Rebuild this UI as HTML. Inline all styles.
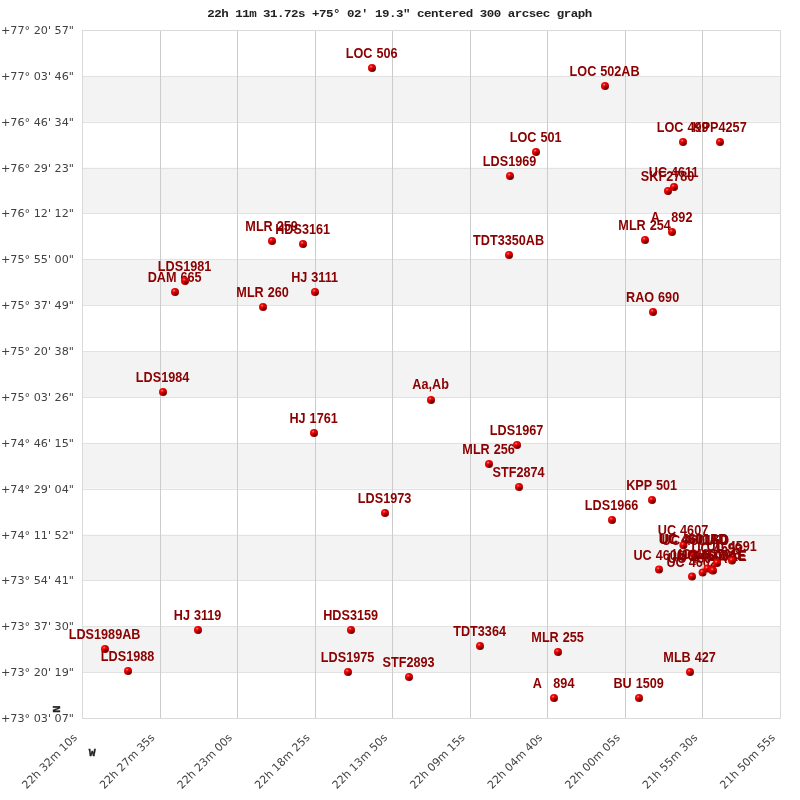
<!DOCTYPE html>
<html lang="en"><head><meta charset="utf-8"><title>22h 11m 31.72s +75° 02′ 19.3″ centered 300 arcsec graph</title>
<style>
html,body{margin:0;padding:0;background:#fff;}
body{width:800px;height:800px;overflow:hidden;}
svg{display:block;}
.ax{font-family:"DejaVu Sans","Liberation Sans",sans-serif;font-size:11.2px;fill:#424242;}
.lb{font-family:"Liberation Sans",sans-serif;font-weight:bold;font-size:12.67px;fill:#8b0000;text-anchor:middle;white-space:pre;word-spacing:0.45px;}
.tt{font-family:"Liberation Mono","DejaVu Sans Mono",monospace;font-weight:bold;font-size:11.8px;letter-spacing:-0.476px;fill:#222;white-space:pre;}
.nw{font-family:"Liberation Mono","DejaVu Sans Mono",monospace;font-weight:bold;font-size:11.5px;fill:#222;stroke:#222;stroke-width:0.35px;text-anchor:middle;}
</style></head><body>
<svg width="800" height="800" viewBox="0 0 800 800" role="img" aria-label="Double star field chart">
<defs><radialGradient id="bg1" cx="0.32" cy="0.3" r="0.85"><stop offset="0" stop-color="#fa1414"/><stop offset="0.4" stop-color="#e40000"/><stop offset="0.75" stop-color="#b80000"/><stop offset="1" stop-color="#840000"/></radialGradient><radialGradient id="bg2" cx="0.5" cy="0.5" r="0.5"><stop offset="0" stop-color="#400000" stop-opacity="0.8"/><stop offset="0.5" stop-color="#580000" stop-opacity="0.5"/><stop offset="1" stop-color="#700000" stop-opacity="0"/></radialGradient><radialGradient id="bg3" cx="0.5" cy="0.5" r="0.5"><stop offset="0" stop-color="#ffc0c0" stop-opacity="0.9"/><stop offset="1" stop-color="#ff4040" stop-opacity="0"/></radialGradient><clipPath id="bc"><circle cx="0" cy="0" r="4"/></clipPath></defs>
<rect x="0" y="0" width="800" height="800" fill="#ffffff"/>
<rect x="82" y="75.87" width="698" height="45.87" fill="#f3f3f3"/>
<rect x="82" y="167.60" width="698" height="45.87" fill="#f3f3f3"/>
<rect x="82" y="259.33" width="698" height="45.87" fill="#f3f3f3"/>
<rect x="82" y="351.07" width="698" height="45.87" fill="#f3f3f3"/>
<rect x="82" y="442.80" width="698" height="45.87" fill="#f3f3f3"/>
<rect x="82" y="534.53" width="698" height="45.87" fill="#f3f3f3"/>
<rect x="82" y="626.27" width="698" height="45.87" fill="#f3f3f3"/>
<path d="M82 76.5H781M82 122.5H781M82 168.5H781M82 213.5H781M82 259.5H781M82 305.5H781M82 351.5H781M82 397.5H781M82 443.5H781M82 489.5H781M82 535.5H781M82 580.5H781M82 626.5H781M82 672.5H781" stroke="#e2e2e2" stroke-width="1" fill="none" shape-rendering="crispEdges"/>
<path d="M160.5 30V719M237.5 30V719M315.5 30V719M392.5 30V719M470.5 30V719M547.5 30V719M625.5 30V719M702.5 30V719" stroke="#cccccc" stroke-width="1" fill="none" shape-rendering="crispEdges"/>
<rect x="82.5" y="30.5" width="698" height="688" stroke="#dadada" stroke-width="1" fill="none" shape-rendering="crispEdges"/>
<text class="tt" xml:space="preserve" transform="translate(207.2,17) scale(1.06,1)">22h 11m 31.72s +75° 02′ 19.3″ centered 300 arcsec graph</text>
<text class="ax" text-anchor="end" x="74" y="34.00">+77° 20' 57&quot;</text>
<text class="ax" text-anchor="end" x="74" y="79.87">+77° 03' 46&quot;</text>
<text class="ax" text-anchor="end" x="74" y="125.73">+76° 46' 34&quot;</text>
<text class="ax" text-anchor="end" x="74" y="171.60">+76° 29' 23&quot;</text>
<text class="ax" text-anchor="end" x="74" y="217.47">+76° 12' 12&quot;</text>
<text class="ax" text-anchor="end" x="74" y="263.33">+75° 55' 00&quot;</text>
<text class="ax" text-anchor="end" x="74" y="309.20">+75° 37' 49&quot;</text>
<text class="ax" text-anchor="end" x="74" y="355.07">+75° 20' 38&quot;</text>
<text class="ax" text-anchor="end" x="74" y="400.93">+75° 03' 26&quot;</text>
<text class="ax" text-anchor="end" x="74" y="446.80">+74° 46' 15&quot;</text>
<text class="ax" text-anchor="end" x="74" y="492.67">+74° 29' 04&quot;</text>
<text class="ax" text-anchor="end" x="74" y="538.53">+74° 11' 52&quot;</text>
<text class="ax" text-anchor="end" x="74" y="584.40">+73° 54' 41&quot;</text>
<text class="ax" text-anchor="end" x="74" y="630.27">+73° 37' 30&quot;</text>
<text class="ax" text-anchor="end" x="74" y="676.13">+73° 20' 19&quot;</text>
<text class="ax" text-anchor="end" x="74" y="722.00">+73° 03' 07&quot;</text>
<text class="ax" style="font-size:11px" text-anchor="end" transform="translate(77.80,738.3) rotate(-45)" x="0" y="0">22h 32m 10s</text>
<text class="ax" style="font-size:11px" text-anchor="end" transform="translate(155.36,738.3) rotate(-45)" x="0" y="0">22h 27m 35s</text>
<text class="ax" style="font-size:11px" text-anchor="end" transform="translate(232.91,738.3) rotate(-45)" x="0" y="0">22h 23m 00s</text>
<text class="ax" style="font-size:11px" text-anchor="end" transform="translate(310.47,738.3) rotate(-45)" x="0" y="0">22h 18m 25s</text>
<text class="ax" style="font-size:11px" text-anchor="end" transform="translate(388.02,738.3) rotate(-45)" x="0" y="0">22h 13m 50s</text>
<text class="ax" style="font-size:11px" text-anchor="end" transform="translate(465.58,738.3) rotate(-45)" x="0" y="0">22h 09m 15s</text>
<text class="ax" style="font-size:11px" text-anchor="end" transform="translate(543.13,738.3) rotate(-45)" x="0" y="0">22h 04m 40s</text>
<text class="ax" style="font-size:11px" text-anchor="end" transform="translate(620.69,738.3) rotate(-45)" x="0" y="0">22h 00m 05s</text>
<text class="ax" style="font-size:11px" text-anchor="end" transform="translate(698.24,738.3) rotate(-45)" x="0" y="0">21h 55m 30s</text>
<text class="ax" style="font-size:11px" text-anchor="end" transform="translate(775.80,738.3) rotate(-45)" x="0" y="0">21h 50m 55s</text>
<text class="nw" transform="translate(60.1,709.1) rotate(-90) scale(1.05,1)" x="0" y="0">N</text>
<text class="nw" transform="translate(92.1,756) scale(1.0,1)" x="0" y="0">W</text>
<text class="lb" xml:space="preserve" transform="translate(104.6,639) scale(1,1.12)">LDS1989AB</text>
<g transform="translate(105,649)"><circle r="4" fill="url(#bg1)"/><g clip-path="url(#bc)"><ellipse cx="1.4" cy="2" rx="3.4" ry="2.6" fill="url(#bg2)"/><circle cx="-0.9" cy="-1.4" r="1.5" fill="url(#bg3)"/></g></g>
<text class="lb" xml:space="preserve" transform="translate(127.6,661) scale(1,1.12)">LDS1988</text>
<g transform="translate(128,671)"><circle r="4" fill="url(#bg1)"/><g clip-path="url(#bc)"><ellipse cx="1.4" cy="2" rx="3.4" ry="2.6" fill="url(#bg2)"/><circle cx="-0.9" cy="-1.4" r="1.5" fill="url(#bg3)"/></g></g>
<text class="lb" xml:space="preserve" transform="translate(162.6,382) scale(1,1.12)">LDS1984</text>
<g transform="translate(163,392)"><circle r="4" fill="url(#bg1)"/><g clip-path="url(#bc)"><ellipse cx="1.4" cy="2" rx="3.4" ry="2.6" fill="url(#bg2)"/><circle cx="-0.9" cy="-1.4" r="1.5" fill="url(#bg3)"/></g></g>
<text class="lb" xml:space="preserve" transform="translate(174.6,282) scale(1,1.12)">DAM 665</text>
<g transform="translate(175,292)"><circle r="4" fill="url(#bg1)"/><g clip-path="url(#bc)"><ellipse cx="1.4" cy="2" rx="3.4" ry="2.6" fill="url(#bg2)"/><circle cx="-0.9" cy="-1.4" r="1.5" fill="url(#bg3)"/></g></g>
<text class="lb" xml:space="preserve" transform="translate(184.6,271) scale(1,1.12)">LDS1981</text>
<g transform="translate(185,281)"><circle r="4" fill="url(#bg1)"/><g clip-path="url(#bc)"><ellipse cx="1.4" cy="2" rx="3.4" ry="2.6" fill="url(#bg2)"/><circle cx="-0.9" cy="-1.4" r="1.5" fill="url(#bg3)"/></g></g>
<text class="lb" xml:space="preserve" transform="translate(197.6,620) scale(1,1.12)">HJ 3119</text>
<g transform="translate(198,630)"><circle r="4" fill="url(#bg1)"/><g clip-path="url(#bc)"><ellipse cx="1.4" cy="2" rx="3.4" ry="2.6" fill="url(#bg2)"/><circle cx="-0.9" cy="-1.4" r="1.5" fill="url(#bg3)"/></g></g>
<text class="lb" xml:space="preserve" transform="translate(262.6,297) scale(1,1.12)">MLR 260</text>
<g transform="translate(263,307)"><circle r="4" fill="url(#bg1)"/><g clip-path="url(#bc)"><ellipse cx="1.4" cy="2" rx="3.4" ry="2.6" fill="url(#bg2)"/><circle cx="-0.9" cy="-1.4" r="1.5" fill="url(#bg3)"/></g></g>
<text class="lb" xml:space="preserve" transform="translate(271.6,231) scale(1,1.12)">MLR 259</text>
<g transform="translate(272,241)"><circle r="4" fill="url(#bg1)"/><g clip-path="url(#bc)"><ellipse cx="1.4" cy="2" rx="3.4" ry="2.6" fill="url(#bg2)"/><circle cx="-0.9" cy="-1.4" r="1.5" fill="url(#bg3)"/></g></g>
<text class="lb" xml:space="preserve" transform="translate(302.6,234) scale(1,1.12)">HDS3161</text>
<g transform="translate(303,244)"><circle r="4" fill="url(#bg1)"/><g clip-path="url(#bc)"><ellipse cx="1.4" cy="2" rx="3.4" ry="2.6" fill="url(#bg2)"/><circle cx="-0.9" cy="-1.4" r="1.5" fill="url(#bg3)"/></g></g>
<text class="lb" xml:space="preserve" transform="translate(313.6,423) scale(1,1.12)">HJ 1761</text>
<g transform="translate(314,433)"><circle r="4" fill="url(#bg1)"/><g clip-path="url(#bc)"><ellipse cx="1.4" cy="2" rx="3.4" ry="2.6" fill="url(#bg2)"/><circle cx="-0.9" cy="-1.4" r="1.5" fill="url(#bg3)"/></g></g>
<text class="lb" xml:space="preserve" transform="translate(314.6,282) scale(1,1.12)">HJ 3111</text>
<g transform="translate(315,292)"><circle r="4" fill="url(#bg1)"/><g clip-path="url(#bc)"><ellipse cx="1.4" cy="2" rx="3.4" ry="2.6" fill="url(#bg2)"/><circle cx="-0.9" cy="-1.4" r="1.5" fill="url(#bg3)"/></g></g>
<text class="lb" xml:space="preserve" transform="translate(347.6,662) scale(1,1.12)">LDS1975</text>
<g transform="translate(348,672)"><circle r="4" fill="url(#bg1)"/><g clip-path="url(#bc)"><ellipse cx="1.4" cy="2" rx="3.4" ry="2.6" fill="url(#bg2)"/><circle cx="-0.9" cy="-1.4" r="1.5" fill="url(#bg3)"/></g></g>
<text class="lb" xml:space="preserve" transform="translate(350.6,620) scale(1,1.12)">HDS3159</text>
<g transform="translate(351,630)"><circle r="4" fill="url(#bg1)"/><g clip-path="url(#bc)"><ellipse cx="1.4" cy="2" rx="3.4" ry="2.6" fill="url(#bg2)"/><circle cx="-0.9" cy="-1.4" r="1.5" fill="url(#bg3)"/></g></g>
<text class="lb" xml:space="preserve" transform="translate(371.6,58) scale(1,1.12)">LOC 506</text>
<g transform="translate(372,68)"><circle r="4" fill="url(#bg1)"/><g clip-path="url(#bc)"><ellipse cx="1.4" cy="2" rx="3.4" ry="2.6" fill="url(#bg2)"/><circle cx="-0.9" cy="-1.4" r="1.5" fill="url(#bg3)"/></g></g>
<text class="lb" xml:space="preserve" transform="translate(384.6,503) scale(1,1.12)">LDS1973</text>
<g transform="translate(385,513)"><circle r="4" fill="url(#bg1)"/><g clip-path="url(#bc)"><ellipse cx="1.4" cy="2" rx="3.4" ry="2.6" fill="url(#bg2)"/><circle cx="-0.9" cy="-1.4" r="1.5" fill="url(#bg3)"/></g></g>
<text class="lb" xml:space="preserve" transform="translate(408.6,667) scale(1,1.12)">STF2893</text>
<g transform="translate(409,677)"><circle r="4" fill="url(#bg1)"/><g clip-path="url(#bc)"><ellipse cx="1.4" cy="2" rx="3.4" ry="2.6" fill="url(#bg2)"/><circle cx="-0.9" cy="-1.4" r="1.5" fill="url(#bg3)"/></g></g>
<text class="lb" xml:space="preserve" transform="translate(430.6,388.8) scale(1,1.12)">Aa,Ab</text>
<g transform="translate(431,400)"><circle r="4" fill="url(#bg1)"/><g clip-path="url(#bc)"><ellipse cx="1.4" cy="2" rx="3.4" ry="2.6" fill="url(#bg2)"/><circle cx="-0.9" cy="-1.4" r="1.5" fill="url(#bg3)"/></g></g>
<text class="lb" xml:space="preserve" transform="translate(479.6,636) scale(1,1.12)">TDT3364</text>
<g transform="translate(480,646)"><circle r="4" fill="url(#bg1)"/><g clip-path="url(#bc)"><ellipse cx="1.4" cy="2" rx="3.4" ry="2.6" fill="url(#bg2)"/><circle cx="-0.9" cy="-1.4" r="1.5" fill="url(#bg3)"/></g></g>
<text class="lb" xml:space="preserve" transform="translate(488.6,454) scale(1,1.12)">MLR 256</text>
<g transform="translate(489,464)"><circle r="4" fill="url(#bg1)"/><g clip-path="url(#bc)"><ellipse cx="1.4" cy="2" rx="3.4" ry="2.6" fill="url(#bg2)"/><circle cx="-0.9" cy="-1.4" r="1.5" fill="url(#bg3)"/></g></g>
<text class="lb" xml:space="preserve" transform="translate(508.6,245) scale(1,1.12)">TDT3350AB</text>
<g transform="translate(509,255)"><circle r="4" fill="url(#bg1)"/><g clip-path="url(#bc)"><ellipse cx="1.4" cy="2" rx="3.4" ry="2.6" fill="url(#bg2)"/><circle cx="-0.9" cy="-1.4" r="1.5" fill="url(#bg3)"/></g></g>
<text class="lb" xml:space="preserve" transform="translate(509.6,166) scale(1,1.12)">LDS1969</text>
<g transform="translate(510,176)"><circle r="4" fill="url(#bg1)"/><g clip-path="url(#bc)"><ellipse cx="1.4" cy="2" rx="3.4" ry="2.6" fill="url(#bg2)"/><circle cx="-0.9" cy="-1.4" r="1.5" fill="url(#bg3)"/></g></g>
<text class="lb" xml:space="preserve" transform="translate(516.6,435) scale(1,1.12)">LDS1967</text>
<g transform="translate(517,445)"><circle r="4" fill="url(#bg1)"/><g clip-path="url(#bc)"><ellipse cx="1.4" cy="2" rx="3.4" ry="2.6" fill="url(#bg2)"/><circle cx="-0.9" cy="-1.4" r="1.5" fill="url(#bg3)"/></g></g>
<text class="lb" xml:space="preserve" transform="translate(518.6,477) scale(1,1.12)">STF2874</text>
<g transform="translate(519,487)"><circle r="4" fill="url(#bg1)"/><g clip-path="url(#bc)"><ellipse cx="1.4" cy="2" rx="3.4" ry="2.6" fill="url(#bg2)"/><circle cx="-0.9" cy="-1.4" r="1.5" fill="url(#bg3)"/></g></g>
<text class="lb" xml:space="preserve" transform="translate(535.6,142) scale(1,1.12)">LOC 501</text>
<g transform="translate(536,152)"><circle r="4" fill="url(#bg1)"/><g clip-path="url(#bc)"><ellipse cx="1.4" cy="2" rx="3.4" ry="2.6" fill="url(#bg2)"/><circle cx="-0.9" cy="-1.4" r="1.5" fill="url(#bg3)"/></g></g>
<text class="lb" xml:space="preserve" transform="translate(553.6,688) scale(1,1.12)">A   894</text>
<g transform="translate(554,698)"><circle r="4" fill="url(#bg1)"/><g clip-path="url(#bc)"><ellipse cx="1.4" cy="2" rx="3.4" ry="2.6" fill="url(#bg2)"/><circle cx="-0.9" cy="-1.4" r="1.5" fill="url(#bg3)"/></g></g>
<text class="lb" xml:space="preserve" transform="translate(557.6,642) scale(1,1.12)">MLR 255</text>
<g transform="translate(558,652)"><circle r="4" fill="url(#bg1)"/><g clip-path="url(#bc)"><ellipse cx="1.4" cy="2" rx="3.4" ry="2.6" fill="url(#bg2)"/><circle cx="-0.9" cy="-1.4" r="1.5" fill="url(#bg3)"/></g></g>
<text class="lb" xml:space="preserve" transform="translate(604.6,76) scale(1,1.12)">LOC 502AB</text>
<g transform="translate(605,86)"><circle r="4" fill="url(#bg1)"/><g clip-path="url(#bc)"><ellipse cx="1.4" cy="2" rx="3.4" ry="2.6" fill="url(#bg2)"/><circle cx="-0.9" cy="-1.4" r="1.5" fill="url(#bg3)"/></g></g>
<text class="lb" xml:space="preserve" transform="translate(611.6,510) scale(1,1.12)">LDS1966</text>
<g transform="translate(612,520)"><circle r="4" fill="url(#bg1)"/><g clip-path="url(#bc)"><ellipse cx="1.4" cy="2" rx="3.4" ry="2.6" fill="url(#bg2)"/><circle cx="-0.9" cy="-1.4" r="1.5" fill="url(#bg3)"/></g></g>
<text class="lb" xml:space="preserve" transform="translate(638.6,688) scale(1,1.12)">BU 1509</text>
<g transform="translate(639,698)"><circle r="4" fill="url(#bg1)"/><g clip-path="url(#bc)"><ellipse cx="1.4" cy="2" rx="3.4" ry="2.6" fill="url(#bg2)"/><circle cx="-0.9" cy="-1.4" r="1.5" fill="url(#bg3)"/></g></g>
<text class="lb" xml:space="preserve" transform="translate(644.6,230) scale(1,1.12)">MLR 254</text>
<g transform="translate(645,240)"><circle r="4" fill="url(#bg1)"/><g clip-path="url(#bc)"><ellipse cx="1.4" cy="2" rx="3.4" ry="2.6" fill="url(#bg2)"/><circle cx="-0.9" cy="-1.4" r="1.5" fill="url(#bg3)"/></g></g>
<text class="lb" xml:space="preserve" transform="translate(651.6,490) scale(1,1.12)">KPP 501</text>
<g transform="translate(652,500)"><circle r="4" fill="url(#bg1)"/><g clip-path="url(#bc)"><ellipse cx="1.4" cy="2" rx="3.4" ry="2.6" fill="url(#bg2)"/><circle cx="-0.9" cy="-1.4" r="1.5" fill="url(#bg3)"/></g></g>
<text class="lb" xml:space="preserve" transform="translate(652.6,302) scale(1,1.12)">RAO 690</text>
<g transform="translate(653,312)"><circle r="4" fill="url(#bg1)"/><g clip-path="url(#bc)"><ellipse cx="1.4" cy="2" rx="3.4" ry="2.6" fill="url(#bg2)"/><circle cx="-0.9" cy="-1.4" r="1.5" fill="url(#bg3)"/></g></g>
<text class="lb" xml:space="preserve" transform="translate(658.6,559.6) scale(1,1.12)">UC 4606</text>
<g transform="translate(659,569.6)"><circle r="4" fill="url(#bg1)"/><g clip-path="url(#bc)"><ellipse cx="1.4" cy="2" rx="3.4" ry="2.6" fill="url(#bg2)"/><circle cx="-0.9" cy="-1.4" r="1.5" fill="url(#bg3)"/></g></g>
<text class="lb" xml:space="preserve" transform="translate(667.6,181) scale(1,1.12)">SKF2780</text>
<g transform="translate(668,191)"><circle r="4" fill="url(#bg1)"/><g clip-path="url(#bc)"><ellipse cx="1.4" cy="2" rx="3.4" ry="2.6" fill="url(#bg2)"/><circle cx="-0.9" cy="-1.4" r="1.5" fill="url(#bg3)"/></g></g>
<text class="lb" xml:space="preserve" transform="translate(671.6,222) scale(1,1.12)">A   892</text>
<g transform="translate(672,232)"><circle r="4" fill="url(#bg1)"/><g clip-path="url(#bc)"><ellipse cx="1.4" cy="2" rx="3.4" ry="2.6" fill="url(#bg2)"/><circle cx="-0.9" cy="-1.4" r="1.5" fill="url(#bg3)"/></g></g>
<text class="lb" xml:space="preserve" transform="translate(673.6,177) scale(1,1.12)">UC 4611</text>
<g transform="translate(674,187)"><circle r="4" fill="url(#bg1)"/><g clip-path="url(#bc)"><ellipse cx="1.4" cy="2" rx="3.4" ry="2.6" fill="url(#bg2)"/><circle cx="-0.9" cy="-1.4" r="1.5" fill="url(#bg3)"/></g></g>
<text class="lb" xml:space="preserve" transform="translate(682.6,132) scale(1,1.12)">LOC 499</text>
<g transform="translate(683,142)"><circle r="4" fill="url(#bg1)"/><g clip-path="url(#bc)"><ellipse cx="1.4" cy="2" rx="3.4" ry="2.6" fill="url(#bg2)"/><circle cx="-0.9" cy="-1.4" r="1.5" fill="url(#bg3)"/></g></g>
<text class="lb" xml:space="preserve" transform="translate(683,535.2) scale(1,1.12)">UC 4607</text>
<g transform="translate(683.4,545.2)"><circle r="4" fill="url(#bg1)"/><g clip-path="url(#bc)"><ellipse cx="1.4" cy="2" rx="3.4" ry="2.6" fill="url(#bg2)"/><circle cx="-0.9" cy="-1.4" r="1.5" fill="url(#bg3)"/></g></g>
<text class="lb" xml:space="preserve" transform="translate(689.6,662) scale(1,1.12)">MLB 427</text>
<g transform="translate(690,672)"><circle r="4" fill="url(#bg1)"/><g clip-path="url(#bc)"><ellipse cx="1.4" cy="2" rx="3.4" ry="2.6" fill="url(#bg2)"/><circle cx="-0.9" cy="-1.4" r="1.5" fill="url(#bg3)"/></g></g>
<text class="lb" xml:space="preserve" transform="translate(691.6,566.6) scale(1,1.12)">UC 4602</text>
<g transform="translate(692,576.6)"><circle r="4" fill="url(#bg1)"/><g clip-path="url(#bc)"><ellipse cx="1.4" cy="2" rx="3.4" ry="2.6" fill="url(#bg2)"/><circle cx="-0.9" cy="-1.4" r="1.5" fill="url(#bg3)"/></g></g>
<text class="lb" xml:space="preserve" transform="translate(693.1,543.6) scale(1,1.12)">UC 4601AD</text>
<g transform="translate(693.5,553.6)"><circle r="4" fill="url(#bg1)"/><g clip-path="url(#bc)"><ellipse cx="1.4" cy="2" rx="3.4" ry="2.6" fill="url(#bg2)"/><circle cx="-0.9" cy="-1.4" r="1.5" fill="url(#bg3)"/></g></g>
<text class="lb" xml:space="preserve" transform="translate(694.2,544.4) scale(1,1.12)">UC 4601BD</text>
<g transform="translate(694.6,554.4)"><circle r="4" fill="url(#bg1)"/><g clip-path="url(#bc)"><ellipse cx="1.4" cy="2" rx="3.4" ry="2.6" fill="url(#bg2)"/><circle cx="-0.9" cy="-1.4" r="1.5" fill="url(#bg3)"/></g></g>
<text class="lb" xml:space="preserve" transform="translate(695.4,545.2) scale(1,1.12)">UC 4601FD</text>
<g transform="translate(695.8,555.2)"><circle r="4" fill="url(#bg1)"/><g clip-path="url(#bc)"><ellipse cx="1.4" cy="2" rx="3.4" ry="2.6" fill="url(#bg2)"/><circle cx="-0.9" cy="-1.4" r="1.5" fill="url(#bg3)"/></g></g>
<text class="lb" xml:space="preserve" transform="translate(702.2,562.6) scale(1,1.12)">UC 4604AC</text>
<g transform="translate(702.6,572.6)"><circle r="4" fill="url(#bg1)"/><g clip-path="url(#bc)"><ellipse cx="1.4" cy="2" rx="3.4" ry="2.6" fill="url(#bg2)"/><circle cx="-0.9" cy="-1.4" r="1.5" fill="url(#bg3)"/></g></g>
<text class="lb" xml:space="preserve" transform="translate(707,558.6) scale(1,1.12)">UC 4603AB</text>
<g transform="translate(707.4,568.6)"><circle r="4" fill="url(#bg1)"/><g clip-path="url(#bc)"><ellipse cx="1.4" cy="2" rx="3.4" ry="2.6" fill="url(#bg2)"/><circle cx="-0.9" cy="-1.4" r="1.5" fill="url(#bg3)"/></g></g>
<text class="lb" xml:space="preserve" transform="translate(711.8,560.2) scale(1,1.12)">UC 4605AE</text>
<g transform="translate(712.2,570.2)"><circle r="4" fill="url(#bg1)"/><g clip-path="url(#bc)"><ellipse cx="1.4" cy="2" rx="3.4" ry="2.6" fill="url(#bg2)"/><circle cx="-0.9" cy="-1.4" r="1.5" fill="url(#bg3)"/></g></g>
<text class="lb" xml:space="preserve" transform="translate(712.6,560.6) scale(1,1.12)">UC 4600AE</text>
<g transform="translate(713,570.6)"><circle r="4" fill="url(#bg1)"/><g clip-path="url(#bc)"><ellipse cx="1.4" cy="2" rx="3.4" ry="2.6" fill="url(#bg2)"/><circle cx="-0.9" cy="-1.4" r="1.5" fill="url(#bg3)"/></g></g>
<text class="lb" xml:space="preserve" transform="translate(716.6,553) scale(1,1.12)">UC 4599</text>
<g transform="translate(717,563)"><circle r="4" fill="url(#bg1)"/><g clip-path="url(#bc)"><ellipse cx="1.4" cy="2" rx="3.4" ry="2.6" fill="url(#bg2)"/><circle cx="-0.9" cy="-1.4" r="1.5" fill="url(#bg3)"/></g></g>
<text class="lb" xml:space="preserve" transform="translate(719.6,132) scale(1,1.12)">KPP4257</text>
<g transform="translate(720,142)"><circle r="4" fill="url(#bg1)"/><g clip-path="url(#bc)"><ellipse cx="1.4" cy="2" rx="3.4" ry="2.6" fill="url(#bg2)"/><circle cx="-0.9" cy="-1.4" r="1.5" fill="url(#bg3)"/></g></g>
<text class="lb" xml:space="preserve" transform="translate(731.6,550.6) scale(1,1.12)">UC 4591</text>
<g transform="translate(732,560.6)"><circle r="4" fill="url(#bg1)"/><g clip-path="url(#bc)"><ellipse cx="1.4" cy="2" rx="3.4" ry="2.6" fill="url(#bg2)"/><circle cx="-0.9" cy="-1.4" r="1.5" fill="url(#bg3)"/></g></g>
</svg>
</body></html>
